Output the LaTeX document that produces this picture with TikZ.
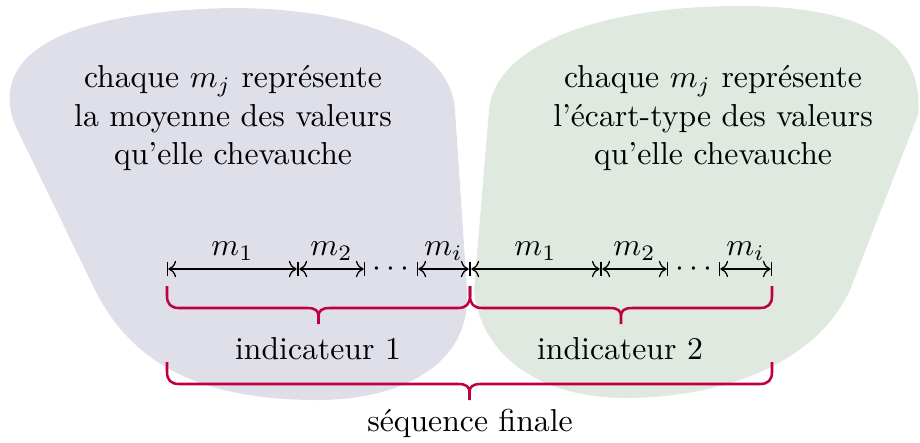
\documentclass[tikz,border=0pt]{standalone}
\usetikzlibrary{arrows.meta,calc}
\definecolor{blobA}{RGB}{223,223,234}
\definecolor{blobB}{RGB}{223,233,223}
\definecolor{braceC}{RGB}{191,0,64}
\tikzset{
  seg/.style={|<->|, line width=0.4pt},
  lbl/.style={midway, above, inner sep=2.5pt},
  bracestyle/.style={draw=braceC, line width=0.8pt, line join=round},
  txt/.style={align=center, inner sep=0pt}
}
% #1 = start x, #2 = end x, #3 = top y (pixel units)
\newcommand\mybrace[3]{%
  \pgfmathsetmacro\xm{(#1+#2)/2}%
  \draw[bracestyle] (#1,#3) -- (#1,#3+10)
    .. controls (#1,#3+18) and (#1+4,#3+22) .. (#1+12,#3+22)
    -- (\xm-11,#3+22)
    .. controls (\xm-3,#3+22) and (\xm,#3+25) .. (\xm,#3+30)
    -- (\xm,#3+38)
    (\xm,#3+30)
    .. controls (\xm,#3+25) and (\xm+3,#3+22) .. (\xm+11,#3+22)
    -- (#2-12,#3+22)
    .. controls (#2-4,#3+22) and (#2,#3+18) .. (#2,#3+10) -- (#2,#3);
}
\begin{document}
\begin{tikzpicture}[x=0.3152pt, y=-0.3152pt]
\useasboundingbox (0,0) rectangle (920,442);
% blobs
\fill[blobA] (15,125) .. controls (-10,60) and (50,12) .. (230,8)
  .. controls (380,8) and (452,55) .. (455,110) -- (467,290)
  .. controls (472,365) and (400,400) .. (318,400)
  .. controls (210,400) and (135,370) .. (95,290) -- cycle;
\fill[blobB] (474,290) -- (489,110) .. controls (495,45) and (600,6) .. (740,6)
  .. controls (860,6) and (925,40) .. (918,115) -- (850,290)
  .. controls (815,365) and (720,398) .. (625,398)
  .. controls (540,398) and (480,355) .. (474,290) -- cycle;
% texts
\node[txt] (t1) at (233,118) {chaque $m_j$ représente\\la moyenne des valeurs\\qu'elle chevauche};
\node[txt] (t2) at (713,118) {chaque $m_j$ représente\\l'écart-type des valeurs\\qu'elle chevauche};
% ticks
\foreach \n/\x in {a/167,b/298,c/365,d/417,e/470,f/601,g/668,h/719,k/772}
  \coordinate (\n) at (\x,269);
\draw[seg] (a) -- node[lbl] (l1) {$m_1$} (b);
\draw[seg] (b) -- node[lbl] (l2) {$m_2$} (c);
\node (d1) at ($(c)!0.5!(d)$) {$\cdots$};
\draw[seg] (d) -- node[lbl] (l3) {$m_i$} (e);
\draw[seg] (e) -- node[lbl] (l4) {$m_1$} (f);
\draw[seg] (f) -- node[lbl] (l5) {$m_2$} (g);
\node (d2) at ($(g)!0.5!(h)$) {$\cdots$};
\draw[seg] (h) -- node[lbl] (l6) {$m_i$} (k);
% braces
\mybrace{167}{470}{286}
\mybrace{470}{772}{286}
\mybrace{167}{772}{362}
\node (i1) at (318,349) {indicateur 1};
\node (i2) at (620,349) {indicateur 2};
\node (sf) at (470,423) {séquence finale};
\end{tikzpicture}
\end{document}
